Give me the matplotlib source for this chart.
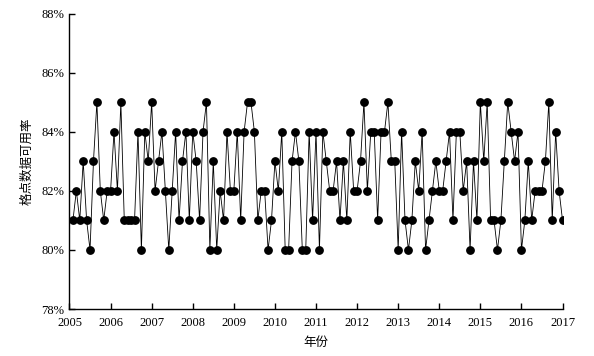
import numpy as np
import matplotlib
matplotlib.use("Agg")
import matplotlib.pyplot as plt
from matplotlib.ticker import FuncFormatter

# monthly gridded-data availability (%), Jan 2005 .. Dec 2016
rate = [
	81, 82, 81, 83, 81, 80, 83, 85, 82, 81, 82, 82,   # 2005
	84, 82, 85, 81, 81, 81, 81, 84, 80, 84, 83, 85,   # 2006
	82, 83, 84, 82, 80, 82, 84, 81, 83, 84, 81, 84,   # 2007
	83, 81, 84, 85, 80, 83, 80, 82, 81, 84, 82, 82,   # 2008
	84, 81, 84, 85, 85, 84, 81, 82, 82, 80, 81, 83,   # 2009
	82, 84, 80, 80, 83, 84, 83, 80, 80, 84, 81, 84,   # 2010
	80, 84, 83, 82, 82, 83, 81, 83, 81, 84, 82, 82,   # 2011
	83, 85, 82, 84, 84, 81, 84, 84, 85, 83, 83, 80,   # 2012
	84, 81, 80, 81, 83, 82, 84, 80, 81, 82, 83, 82,   # 2013
	82, 83, 84, 81, 84, 84, 82, 83, 80, 83, 81, 85,   # 2014
	83, 85, 81, 81, 80, 81, 83, 85, 84, 83, 84, 80,   # 2015
	81, 83, 81, 82, 82, 82, 83, 85, 81, 84, 82, 81,   # 2016
]
start_year = 2005
years = list(range(2005, 2018))
y_ticks = [78, 80, 82, 84, 86, 88]

num_font = ["Liberation Serif", "Noto Sans CJK SC"]
cjk_font = ["Noto Sans CJK SC", "Liberation Serif"]

months = np.arange(len(rate))
x = start_year + (months + 1) / 12.0

fig = plt.figure(figsize=(5.94, 3.56), dpi=100)
ax = fig.add_axes([0.117, 0.132, 0.830, 0.830])

ax.plot(x, rate, color="black", linewidth=0.6, marker="o",
	markersize=5.3, markerfacecolor="black", markeredgecolor="black")

ax.set_xlim(years[0], years[-1])
ax.set_ylim(y_ticks[0], y_ticks[-1])
ax.set_xticks(years)
ax.set_yticks(y_ticks)
ax.yaxis.set_major_formatter(FuncFormatter(lambda v, p: "%d%%" % v))

ax.spines["top"].set_visible(False)
ax.spines["right"].set_visible(False)
ax.spines["left"].set_linewidth(1.0)
ax.spines["bottom"].set_linewidth(1.0)
ax.tick_params(direction="in", length=4, width=1.0)
ax.tick_params(axis="x", pad=6)
ax.tick_params(axis="y", pad=4)

for lab in ax.get_xticklabels() + ax.get_yticklabels():
	lab.set_family(num_font)
	lab.set_fontsize(9)

ax.set_xlabel("年份", family=cjk_font, fontsize=9, labelpad=5)
ax.set_ylabel("格点数据可用率", family=cjk_font, fontsize=9, labelpad=5)

fig.savefig("out.png", dpi=100)
